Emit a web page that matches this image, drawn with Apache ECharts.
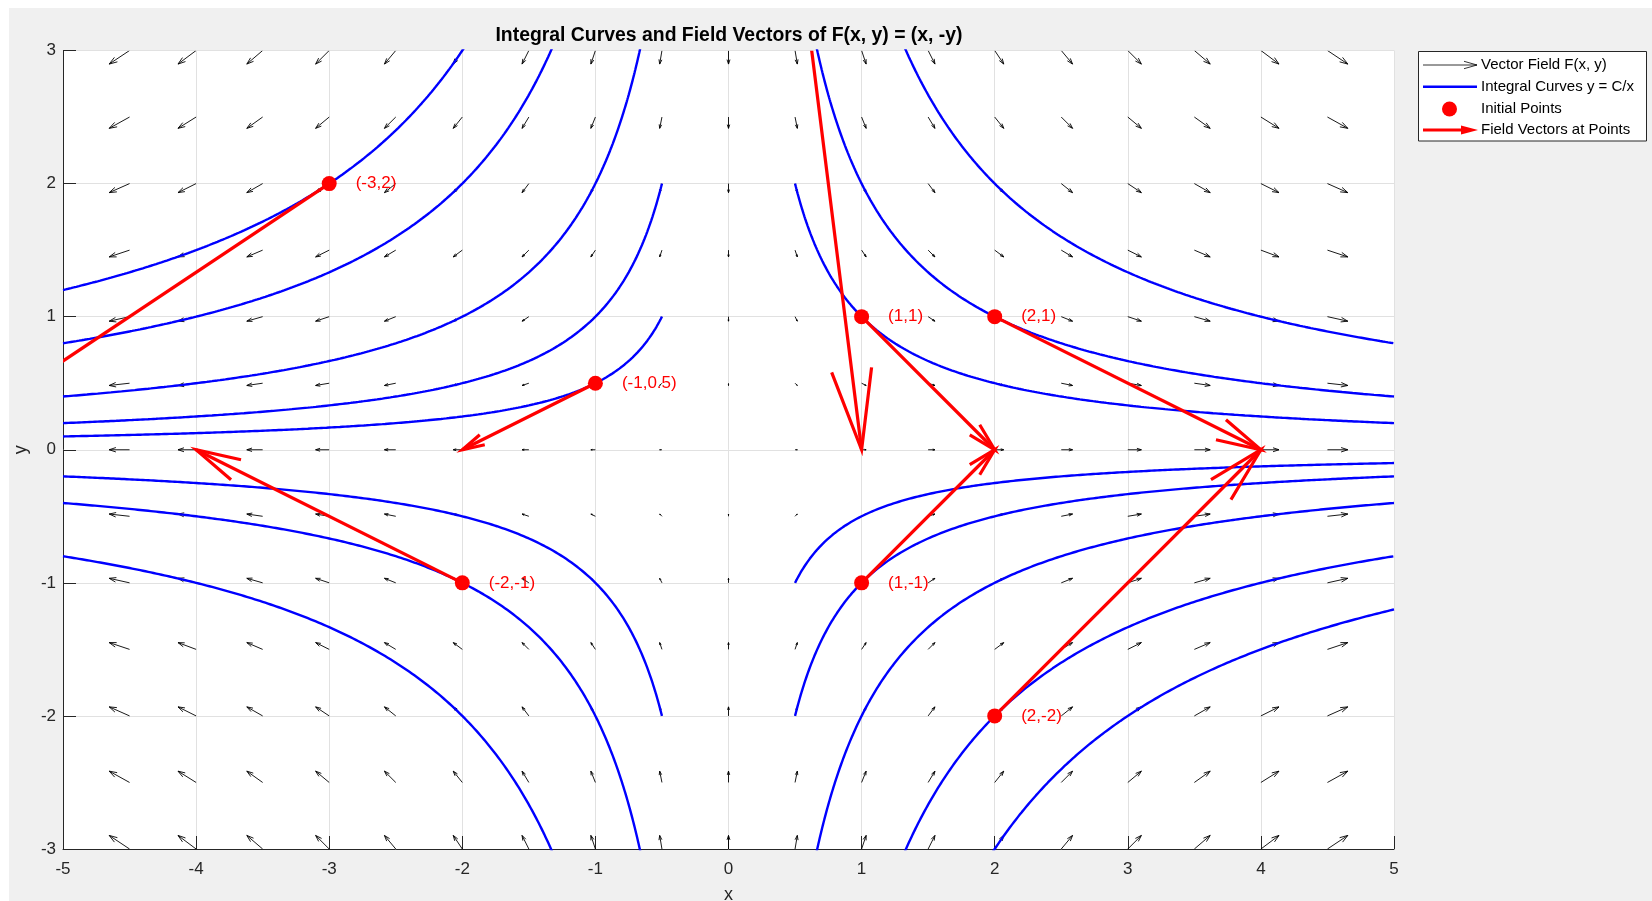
<!DOCTYPE html>
<html><head><meta charset="utf-8">
<script src="https://cdn.jsdelivr.net/npm/echarts@6/dist/echarts.min.js"></script>
<style>
html,body{margin:0;padding:0;background:#fff;overflow:hidden;}
#bg{position:absolute;left:9px;top:8px;width:1643px;height:893px;background:#f0f0f0;}
#chart{position:absolute;left:0;top:0;width:1652px;height:901px;}
</style></head><body>
<div id="bg"></div>
<div id="chart"></div>
<script>
// ---------------- data ----------------
const titleText = 'Integral Curves and Field Vectors of F(x, y) = (x, -y)';
const xTicks = [-5, -4, -3, -2, -1, 0, 1, 2, 3, 4, 5];
const yTicks = [-3, -2, -1, 0, 1, 2, 3];
// quiver grid (vector field sample points)
const gridX = [-5, -4.5, -4, -3.5, -3, -2.5, -2, -1.5, -1, -0.5, 0, 0.5, 1, 1.5, 2, 2.5, 3, 3.5, 4, 4.5, 5];
const gridY = [-3, -2.5, -2, -1.5, -1, -0.5, 0, 0.5, 1, 1.5, 2, 2.5, 3];
// constants C of the integral curves y = C/x
const curveC = [-6, -4, -2, -1, -0.5, 1, 2, 4];
// x-ranges of the two branches of every curve
const branchStart = [-5, 0.5];
const branchEnd = [-0.5, 5];
// initial points
const pointX = [1, 2, -1, -2, 1, 2, -3, 0.5];
const pointY = [1, 1, 0.5, -1, -1, -2, 2, 4];
const pointLabels = ['(1,1)', '(2,1)', '(-1,0.5)', '(-2,-1)', '(1,-1)', '(2,-2)', '(-3,2)', '(0.5,4)'];
const legendNames = ['Vector Field F(x, y)', 'Integral Curves y = C/x', 'Initial Points', 'Field Vectors at Points'];

// vector field F(x, y) = (x, -y) as stated in the title
function field(x, y) { return [x, -y]; }

// ---------------- build series data ----------------
const quiverData = [];
gridX.forEach(x => gridY.forEach(y => { const f = field(x, y); quiverData.push([x, y, f[0], f[1]]); }));

const vecData = pointX.map((x, i) => { const f = field(x, pointY[i]); return [x, pointY[i], f[0], f[1]]; });

const FONT = "'Liberation Sans', Arial, Helvetica, sans-serif";
const QUIVER_SCALE = 0.034;

function makeArrow(scale, headFrac, headTan, color, width) {
  return function (params, api) {
    const x = api.value(0), y = api.value(1);
    const u = api.value(2) * scale, v = api.value(3) * scale;
    const p0 = api.coord([x, y]);
    const p1 = api.coord([x + u, y + v]);
    const dx = p1[0] - p0[0], dy = p1[1] - p0[1];
    const L = Math.hypot(dx, dy);
    const cs = params.coordSys;
    if (L < 0.5) return { type: 'group', children: [] };
    const bx = -dx * headFrac, by = -dy * headFrac;
    const px = -by * headTan, py = bx * headTan;
    const h1 = [p1[0] + bx + px, p1[1] + by + py];
    const h2 = [p1[0] + bx - px, p1[1] + by - py];
    const st = { stroke: color, lineWidth: width, fill: null, lineJoin: 'miter' };
    return {
      type: 'group',
      clipPath: { type: 'rect', shape: { x: cs.x, y: cs.y, width: cs.width, height: cs.height } },
      children: [
        { type: 'polyline', shape: { points: [p0, p1] }, style: st },
        { type: 'polyline', shape: { points: [h1, p1, h2] }, style: st }
      ]
    };
  };
}

const series = [];
series.push({
  name: legendNames[0], type: 'custom', data: quiverData, z: 2, silent: true, clip: true,
  renderItem: makeArrow(QUIVER_SCALE, 0.33, 0.33, '#000000', 0.9),
  encode: { x: 0, y: 1 }
});

curveC.forEach(C => {
  for (let b = 0; b < branchStart.length; b++) {
    const pts = [];
    const n = Math.round((branchEnd[b] - branchStart[b]) / 0.005);
    for (let k = 0; k <= n; k++) {
      const x = branchStart[b] + (branchEnd[b] - branchStart[b]) * k / n;
      pts.push([x, C / x]);
    }
    series.push({
      name: legendNames[1], type: 'line', data: pts, showSymbol: false, symbol: 'none',
      clip: true, silent: true, z: 3,
      lineStyle: { color: '#0000ff', width: 2.4 }
    });
  }
});

series.push({
  name: legendNames[2], type: 'scatter', z: 4, clip: true, silent: true,
  data: pointX.map((x, i) => [x, pointY[i]]),
  symbol: 'circle', symbolSize: 15,
  itemStyle: { color: '#ff0000', opacity: 1 },
  label: {
    show: true, position: 'right', distance: 19,
    formatter: p => pointLabels[p.dataIndex],
    color: '#ff0000', fontSize: 17, fontFamily: FONT
  }
});

series.push({
  name: legendNames[3], type: 'custom', data: vecData, z: 5, silent: true, clip: true,
  renderItem: makeArrow(1, 0.15, 0.25, '#ff0000', 3.2),
  encode: { x: 0, y: 1 }
});

// ---------------- legend (drawn) ----------------
const LX = 1418.5, LY = 51.5, LW = 228, LH = 89.5;
const rowY = [65, 86.7, 109, 130];
const graphic = [
  { type: 'rect', shape: { x: LX, y: LY, width: LW, height: LH }, style: { fill: '#ffffff', stroke: '#262626', lineWidth: 1 }, z: 100 },
  { type: 'line', shape: { x1: 1423, y1: rowY[0], x2: 1477, y2: rowY[0] }, style: { stroke: '#000', lineWidth: 0.8 }, z: 101 },
  { type: 'polyline', shape: { points: [[1464, rowY[0] - 3.7], [1477, rowY[0]], [1464, rowY[0] + 3.7]] }, style: { stroke: '#000', lineWidth: 0.8, fill: null }, z: 101 },
  { type: 'line', shape: { x1: 1423, y1: rowY[1], x2: 1477, y2: rowY[1] }, style: { stroke: '#0000ff', lineWidth: 2.4 }, z: 101 },
  { type: 'circle', shape: { cx: 1449.5, cy: rowY[2], r: 7.5 }, style: { fill: '#ff0000' }, z: 101 },
  { type: 'line', shape: { x1: 1423, y1: rowY[3], x2: 1463, y2: rowY[3] }, style: { stroke: '#ff0000', lineWidth: 3.2 }, z: 101 },
  { type: 'polygon', shape: { points: [[1461, rowY[3] - 4.5], [1478, rowY[3]], [1461, rowY[3] + 4.5]] }, style: { fill: '#ff0000' }, z: 101 }
];
legendNames.forEach((t, i) => graphic.push({
  type: 'text', x: 1481, y: rowY[i], z: 102,
  style: { text: t, fill: '#000', font: '15px ' + FONT, textVerticalAlign: 'middle', textAlign: 'left' }
}));

// ---------------- chart ----------------
const chart = echarts.init(document.getElementById('chart'), null, { renderer: 'canvas' });
chart.setOption({
  animation: false,
  backgroundColor: 'transparent',
  title: {
    text: titleText, left: 729, top: 26, textAlign: 'center', padding: 0,
    textStyle: { fontFamily: FONT, fontSize: 19.4, fontWeight: 'bold', color: '#000' }
  },
  grid: { left: 63, top: 50.5, width: 1331, height: 798.5, show: true, backgroundColor: '#ffffff', borderWidth: 0,
    containLabel: false, outerBoundsMode: 'none' },
  xAxis: {
    type: 'value', min: xTicks[0], max: xTicks[xTicks.length - 1], interval: 1,
    name: 'x', nameLocation: 'middle', nameGap: 37,
    nameTextStyle: { fontFamily: FONT, fontSize: 18, color: '#262626' },
    axisLine: { show: true, onZero: false, lineStyle: { color: '#262626', width: 1 } },
    axisTick: { show: true, inside: true, length: 13, lineStyle: { color: '#262626' } },
    axisLabel: { show: true, margin: 12, fontFamily: FONT, fontSize: 17, color: '#262626',
      formatter: v => xTicks.includes(v) ? String(v) : '' },
    splitLine: { show: true, lineStyle: { color: '#e1e1e1', width: 1 } }
  },
  yAxis: {
    type: 'value', min: yTicks[0], max: yTicks[yTicks.length - 1], interval: 1,
    name: 'y', nameLocation: 'middle', nameGap: 31, nameRotate: 90,
    nameTextStyle: { fontFamily: FONT, fontSize: 18, color: '#262626' },
    axisLine: { show: true, onZero: false, lineStyle: { color: '#262626', width: 1 } },
    axisTick: { show: true, inside: true, length: 13, lineStyle: { color: '#262626' } },
    axisLabel: { show: true, margin: 7, fontFamily: FONT, fontSize: 17, color: '#262626',
      formatter: v => yTicks.includes(v) ? String(v) : '' },
    splitLine: { show: true, lineStyle: { color: '#e1e1e1', width: 1 } }
  },
  graphic: graphic,
  series: series
});
</script>
</body></html>
